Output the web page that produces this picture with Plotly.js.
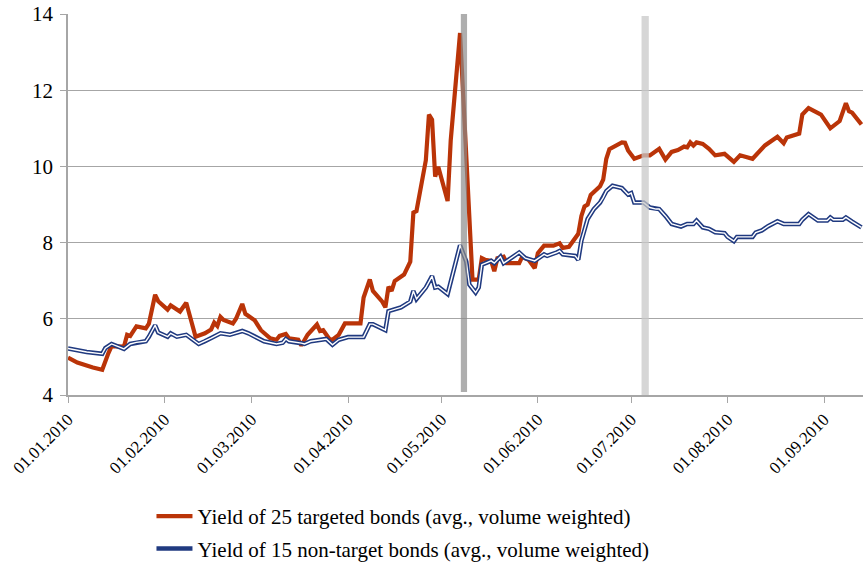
<!DOCTYPE html>
<html>
<head>
<meta charset="utf-8">
<script src="https://cdn.plot.ly/plotly-3.0.1.min.js"></script>
</head>
<body style="margin:0;background:#fff">
<div id="chart" style="width:863px;height:569px"></div>
<script>
// Yield of 25 targeted bonds (avg., volume weighted)
const targetDates = ["2010-01-01","2010-01-04","2010-01-09","2010-01-12","2010-01-14","2010-01-15","2010-01-19","2010-01-20","2010-01-21","2010-01-23","2010-01-26","2010-01-27","2010-01-29","2010-01-30","2010-02-02","2010-02-03","2010-02-06","2010-02-08","2010-02-11","2010-02-14","2010-02-16","2010-02-17","2010-02-18","2010-02-19","2010-02-20","2010-02-23","2010-02-24","2010-02-26","2010-02-27","2010-03-02","2010-03-04","2010-03-07","2010-03-09","2010-03-10","2010-03-12","2010-03-13","2010-03-16","2010-03-17","2010-03-19","2010-03-21","2010-03-22","2010-03-23","2010-03-24","2010-03-26","2010-03-27","2010-03-29","2010-03-31","2010-04-05","2010-04-06","2010-04-08","2010-04-09","2010-04-12","2010-04-13","2010-04-14","2010-04-15","2010-04-16","2010-04-19","2010-04-21","2010-04-22","2010-04-23","2010-04-26","2010-04-27","2010-04-28","2010-04-29","2010-04-30","2010-05-03","2010-05-04","2010-05-07","2010-05-09","2010-05-11","2010-05-13","2010-05-14","2010-05-15","2010-05-17","2010-05-18","2010-05-19","2010-05-21","2010-05-22","2010-05-26","2010-05-27","2010-05-29","2010-05-31","2010-06-01","2010-06-03","2010-06-06","2010-06-08","2010-06-09","2010-06-11","2010-06-14","2010-06-15","2010-06-16","2010-06-17","2010-06-18","2010-06-21","2010-06-22","2010-06-23","2010-06-24","2010-06-26","2010-06-28","2010-06-29","2010-06-30","2010-07-02","2010-07-05","2010-07-07","2010-07-10","2010-07-12","2010-07-14","2010-07-16","2010-07-18","2010-07-19","2010-07-20","2010-07-21","2010-07-22","2010-07-24","2010-07-26","2010-07-28","2010-07-31","2010-08-03","2010-08-05","2010-08-09","2010-08-11","2010-08-13","2010-08-17","2010-08-19","2010-08-20","2010-08-24","2010-08-25","2010-08-27","2010-08-31","2010-09-03","2010-09-06","2010-09-08","2010-09-09","2010-09-10","2010-09-13"];
const targetYield = [4.98,4.85,4.72,4.66,5.10,5.28,5.27,5.58,5.55,5.80,5.75,5.87,6.63,6.46,6.24,6.35,6.19,6.42,5.53,5.62,5.72,5.90,5.81,6.05,5.97,5.88,6.00,6.39,6.13,5.96,5.70,5.49,5.45,5.55,5.60,5.49,5.45,5.30,5.58,5.78,5.85,5.68,5.70,5.47,5.45,5.58,5.88,5.88,6.56,7.03,6.73,6.45,6.30,6.84,6.73,6.99,7.16,7.50,8.79,8.83,10.16,11.36,11.23,9.73,9.99,9.09,10.68,13.50,9.99,7.03,7.03,7.59,7.55,7.52,7.25,7.59,7.63,7.46,7.46,7.63,7.55,7.33,7.72,7.92,7.92,7.98,7.86,7.89,8.23,8.70,8.95,9.00,9.25,9.48,9.65,10.20,10.45,10.55,10.63,10.62,10.42,10.20,10.29,10.29,10.46,10.18,10.38,10.43,10.52,10.50,10.63,10.55,10.63,10.59,10.46,10.29,10.33,10.12,10.29,10.20,10.38,10.55,10.78,10.61,10.76,10.86,11.36,11.53,11.36,11.00,11.19,11.66,11.45,11.41,11.10];

// Yield of 15 non-target bonds (avg., volume weighted)
const nonTargetDates = ["2010-01-01","2010-01-04","2010-01-07","2010-01-12","2010-01-13","2010-01-15","2010-01-17","2010-01-19","2010-01-21","2010-01-23","2010-01-26","2010-01-27","2010-01-29","2010-01-30","2010-02-02","2010-02-03","2010-02-05","2010-02-08","2010-02-12","2010-02-14","2010-02-16","2010-02-19","2010-02-22","2010-02-26","2010-02-28","2010-03-02","2010-03-05","2010-03-09","2010-03-11","2010-03-12","2010-03-13","2010-03-17","2010-03-18","2010-03-20","2010-03-24","2010-03-25","2010-03-27","2010-03-29","2010-04-01","2010-04-06","2010-04-08","2010-04-09","2010-04-13","2010-04-14","2010-04-18","2010-04-21","2010-04-22","2010-04-23","2010-04-26","2010-04-28","2010-04-29","2010-04-30","2010-05-03","2010-05-05","2010-05-07","2010-05-09","2010-05-10","2010-05-12","2010-05-13","2010-05-14","2010-05-17","2010-05-18","2010-05-20","2010-05-21","2010-05-24","2010-05-26","2010-05-28","2010-05-31","2010-06-03","2010-06-04","2010-06-07","2010-06-08","2010-06-09","2010-06-13","2010-06-14","2010-06-15","2010-06-17","2010-06-19","2010-06-21","2010-06-22","2010-06-23","2010-06-25","2010-06-28","2010-06-30","2010-07-01","2010-07-02","2010-07-05","2010-07-07","2010-07-09","2010-07-10","2010-07-12","2010-07-14","2010-07-17","2010-07-19","2010-07-21","2010-07-22","2010-07-24","2010-07-26","2010-07-28","2010-07-31","2010-08-01","2010-08-03","2010-08-04","2010-08-09","2010-08-10","2010-08-12","2010-08-14","2010-08-17","2010-08-19","2010-08-24","2010-08-25","2010-08-27","2010-08-30","2010-09-02","2010-09-03","2010-09-04","2010-09-07","2010-09-08","2010-09-10","2010-09-13"];
const nonTargetYield = [5.22,5.17,5.13,5.08,5.23,5.34,5.28,5.21,5.34,5.38,5.41,5.53,5.83,5.64,5.53,5.62,5.53,5.58,5.34,5.41,5.49,5.62,5.58,5.68,5.62,5.53,5.41,5.34,5.37,5.47,5.41,5.36,5.34,5.41,5.45,5.47,5.32,5.45,5.52,5.52,5.86,5.86,5.70,6.20,6.30,6.45,6.73,6.52,6.82,7.12,6.82,6.84,6.65,7.33,7.93,7.50,6.90,6.69,6.82,7.42,7.52,7.46,7.63,7.46,7.63,7.74,7.59,7.52,7.69,7.65,7.74,7.78,7.69,7.65,7.55,8.05,8.62,8.88,9.05,9.18,9.35,9.49,9.43,9.26,9.30,9.05,9.05,8.92,8.88,8.88,8.70,8.49,8.42,8.49,8.49,8.58,8.40,8.36,8.27,8.25,8.15,8.04,8.15,8.15,8.26,8.32,8.43,8.56,8.49,8.49,8.60,8.75,8.58,8.58,8.66,8.60,8.60,8.66,8.55,8.40];

const tickDates = ["2010-01-01","2010-02-01","2010-03-01","2010-04-01","2010-05-01","2010-06-01","2010-07-01","2010-08-01","2010-09-01"];
const tickLabels = ["01.01.2010","01.02.2010","01.03.2010","01.04.2010","01.05.2010","01.06.2010","01.07.2010","01.08.2010","01.09.2010"];
const seriesNames = ["Yield of 25 targeted bonds (avg., volume weighted)","Yield of 15 non-target bonds (avg., volume weighted)"];
// highlighted event dates (vertical bands)
const eventBands = [["2010-05-07 06:00","2010-05-09 06:00"],["2010-07-04 08:00","2010-07-06 16:00"]];

const FAM = "Liberation Serif, Times New Roman, serif";
const red = "rgb(186,52,8)";
const navy = "rgb(32,58,128)";

const traces = [
  {x: targetDates, y: targetYield, type: "scatter", mode: "lines", name: seriesNames[0],
   legendgroup: "g1", line: {color: red, width: 4.2}},
  {x: nonTargetDates, y: nonTargetYield, type: "scatter", mode: "lines", name: seriesNames[1],
   legendgroup: "g2", line: {color: navy, width: 4.5}},
  {x: nonTargetDates, y: nonTargetYield, type: "scatter", mode: "lines", showlegend: false,
   legendgroup: "g2", hoverinfo: "skip", line: {color: "#ffffff", width: 1.4}}
];

const layout = {
  width: 863, height: 569,
  margin: {l: 68, r: 0, t: 14, b: 166},
  showlegend: true,
  font: {family: FAM, size: 18},
  xaxis: {
    type: "date", range: ["2010-01-01", "2010-09-13 12:00"],
    tickmode: "array", tickvals: tickDates, ticktext: tickLabels, tickangle: -45,
    ticks: "outside", ticklen: 6, tickcolor: "#a6a6a6", tickwidth: 1,
    showline: true, linecolor: "#a6a6a6", linewidth: 1.5,
    showgrid: false, zeroline: false,
    tickfont: {family: FAM, size: 17, color: "#000"}
  },
  yaxis: {
    range: [4, 14], tickmode: "linear", tick0: 4, dtick: 2,
    ticks: "outside", ticklen: 6, tickcolor: "#a6a6a6", ticklabelstandoff: 3,
    showline: true, linecolor: "#a6a6a6", linewidth: 1.5,
    showgrid: true, gridcolor: "#a6a6a6", gridwidth: 1, zeroline: false,
    tickfont: {family: FAM, size: 21, color: "#000"}
  },
  legend: {
    orientation: "v", traceorder: "grouped", x: 0.105, xanchor: "left", y: -0.265, yanchor: "top",
    font: {family: FAM, size: 21, color: "#000"},
    itemwidth: 36, tracegroupgap: 2
  },
  shapes: [
    {type: "rect", xref: "x", yref: "y", x0: eventBands[0][0], x1: eventBands[0][1], y0: 4.08, y1: 14,
     fillcolor: "rgba(140,140,140,0.7)", line: {width: 0}, layer: "above"},
    {type: "rect", xref: "x", yref: "y", x0: eventBands[1][0], x1: eventBands[1][1], y0: 4, y1: 13.95,
     fillcolor: "rgba(200,200,200,0.75)", line: {width: 0}, layer: "above"}
  ]
};

Plotly.newPlot("chart", traces, layout, {displayModeBar: false});
</script>
</body>
</html>
